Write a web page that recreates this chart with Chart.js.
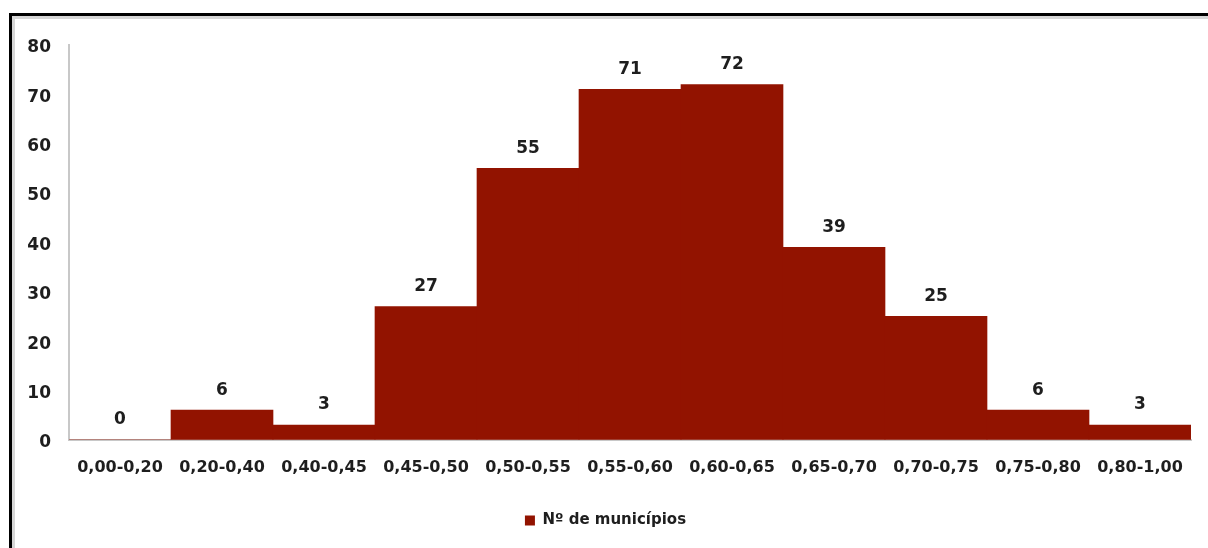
<!DOCTYPE html>
<html>
<head>
<meta charset="utf-8">
<script src="https://cdn.jsdelivr.net/npm/chart.js@4"></script>
<style>
    body { margin: 0; background: #fff; overflow: hidden; }
    #wrap { position: relative; width: 1208px; height: 548px; overflow: hidden; }
    #frame {
        position: absolute; left: 9px; top: 13px; right: -10px; bottom: -10px;
        border-top: 3px solid #000; border-left: 3px solid #000;
        box-shadow: inset 3px 3px 0 #d6d6d6;
        pointer-events: none;
    }
</style>
</head>
<body>
<div id="wrap">
    <canvas id="chart" width="1208" height="548"></canvas>
    <div id="frame"></div>
</div>
<script>
// classes of the index
const categories = ['0,00-0,20', '0,20-0,40', '0,40-0,45', '0,45-0,50', '0,50-0,55', '0,55-0,60',
    '0,60-0,65', '0,65-0,70', '0,70-0,75', '0,75-0,80', '0,80-1,00'];
const municipios = [0, 6, 3, 27, 55, 71, 72, 39, 25, 6, 3];
const seriesName = 'Nº de municípios';

const barColor = '#921300';
const fontFamily = '"DejaVu Sans", Verdana, sans-serif';

// values on top of the bars
const valueLabels = {
    id: 'valueLabels',
    afterDatasetsDraw(chart) {
        const ctx = chart.ctx;
        const meta = chart.getDatasetMeta(0);
        ctx.save();
        ctx.fillStyle = '#1e1e1e';
        ctx.font = 'bold 17px ' + fontFamily;
        ctx.textAlign = 'center';
        ctx.textBaseline = 'middle';
        meta.data.forEach(function(bar, i) {
            ctx.fillText(municipios[i], bar.x, bar.y - 20);
        });
        ctx.restore();
    }
};

const ctx = document.getElementById('chart').getContext('2d');
new Chart(ctx, {
    type: 'bar',
    data: {
        labels: categories,
        datasets: [{
            label: seriesName,
            data: municipios,
            backgroundColor: barColor,
            borderWidth: 0,
            categoryPercentage: 1,
            barPercentage: 1
        }]
    },
    options: {
        responsive: false,
        animation: false,
        layout: { padding: { left: 20, right: 17, top: 45, bottom: 10 } },
        scales: {
            x: {
                z: 1,
                grid: { display: false, drawTicks: false },
                border: { color: '#c8c8c8', width: 2 },
                ticks: {
                    color: '#1e1e1e',
                    padding: 18,
                    maxRotation: 0,
                    autoSkip: false,
                    font: { family: fontFamily, size: 16, weight: 'bold' }
                }
            },
            y: {
                min: 0,
                max: 80,
                afterFit: function(axis) { axis.width = 49; },
                grid: { display: false, drawTicks: false },
                border: { color: '#c8c8c8', width: 2 },
                ticks: {
                    stepSize: 10,
                    color: '#1e1e1e',
                    padding: 18,
                    labelOffset: 3,
                    font: { family: fontFamily, size: 17, weight: 'bold' }
                }
            }
        },
        plugins: {
            tooltip: { enabled: false },
            legend: {
                position: 'bottom',
                labels: {
                    color: '#1e1e1e',
                    boxWidth: 10,
                    boxHeight: 10,
                    padding: 18,
                    font: { family: fontFamily, size: 15, weight: 'bold' }
                }
            }
        }
    },
    plugins: [valueLabels]
});
</script>
</body>
</html>
